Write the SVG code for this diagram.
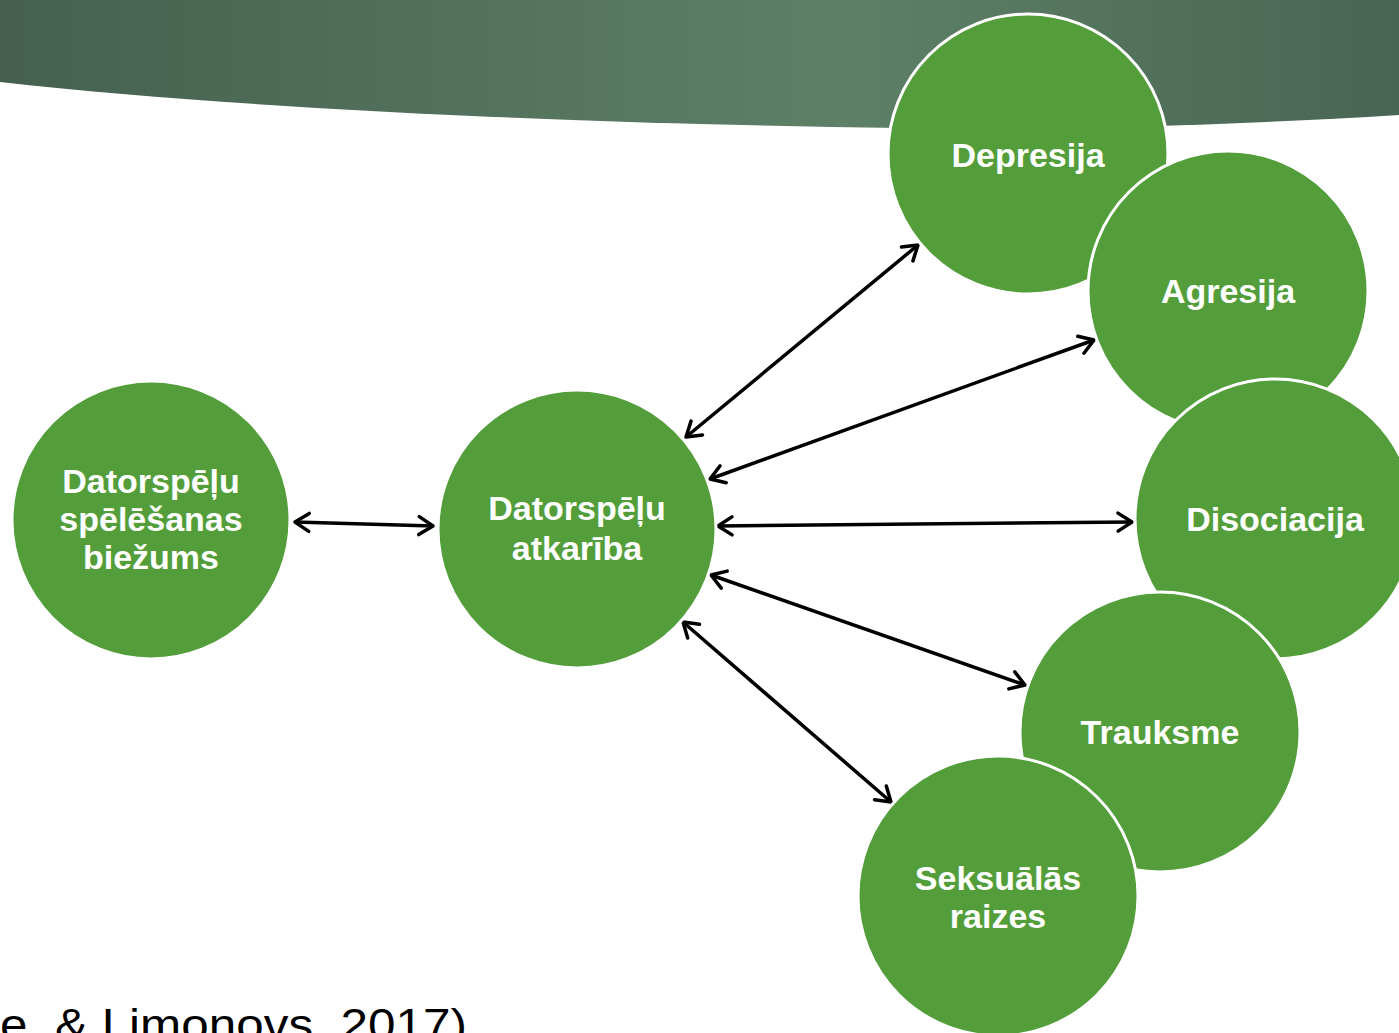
<svg xmlns="http://www.w3.org/2000/svg" width="1399" height="1033" viewBox="0 0 1399 1033">
<defs>
<linearGradient id="hdr" x1="0" y1="0" x2="1" y2="0">
<stop offset="0" stop-color="#45604f"/>
<stop offset="0.6" stop-color="#5e8067"/>
<stop offset="1" stop-color="#486553"/>
</linearGradient>
<marker id="ah" markerUnits="userSpaceOnUse" markerWidth="30" markerHeight="30" viewBox="-20 -15 25 30" refX="0" refY="0" orient="auto-start-reverse">
<path d="M-14,-9 L0,0 L-14,9" fill="none" stroke="#000" stroke-width="3.5" stroke-linecap="round" stroke-linejoin="round"/>
</marker>
</defs>
<style>
.n{fill:#539e3a;stroke:#fff;stroke-width:3}
.t{fill:#fff;font-family:"Liberation Sans",Arial,sans-serif;font-weight:bold;font-size:34px;text-anchor:middle}
.c{stroke:#000;stroke-width:3.5;fill:none;marker-start:url(#ah);marker-end:url(#ah)}
</style>
<rect width="1399" height="1033" fill="#fff"/>
<path d="M0,0 H1399 V115 C1250,124 1100,130 900,128 C600,124 250,110 0,82 Z" fill="url(#hdr)"/>
<text x="0" y="1040" font-family="'Liberation Sans',Arial,sans-serif" font-size="44" fill="#000" textLength="467" lengthAdjust="spacingAndGlyphs">e, &amp; Limonovs, 2017)</text>
<g id="connectors">
<line class="c" x1="295" y1="522" x2="433" y2="526"/>
<line class="c" x1="686" y1="437" x2="918" y2="245"/>
<line class="c" x1="710" y1="479" x2="1094" y2="340"/>
<line class="c" x1="718" y1="526" x2="1132" y2="522"/>
<line class="c" x1="711" y1="575" x2="1025" y2="685"/>
<line class="c" x1="683" y1="622" x2="891" y2="802"/>
</g>
<g id="n-frequency"><circle class="n" cx="151" cy="520" r="139" stroke="none"/>
<text class="t"><tspan x="151" y="493">Datorspēļu</tspan><tspan x="151" y="531">spēlēšanas</tspan><tspan x="151" y="569">biežums</tspan></text></g>
<g id="n-addiction"><circle class="n" cx="577" cy="529" r="139" stroke="none"/>
<text class="t"><tspan x="577" y="520">Datorspēļu</tspan><tspan x="577" y="560">atkarība</tspan></text></g>
<g id="n-depresija"><circle class="n" cx="1028" cy="154" r="140"/>
<text class="t" x="1028" y="167">Depresija</text></g>
<g id="n-agresija"><circle class="n" cx="1228" cy="291" r="140"/>
<text class="t" x="1228" y="303">Agresija</text></g>
<g id="n-disociacija"><circle class="n" cx="1275" cy="519" r="140"/>
<text class="t" x="1275" y="531">Disociacija</text></g>
<g id="n-trauksme"><circle class="n" cx="1160" cy="732" r="140"/>
<text class="t" x="1160" y="744">Trauksme</text></g>
<g id="n-seksualas"><circle class="n" cx="998" cy="896" r="140"/>
<text class="t"><tspan x="998" y="890">Seksuālās</tspan><tspan x="998" y="928">raizes</tspan></text></g>
</svg>
